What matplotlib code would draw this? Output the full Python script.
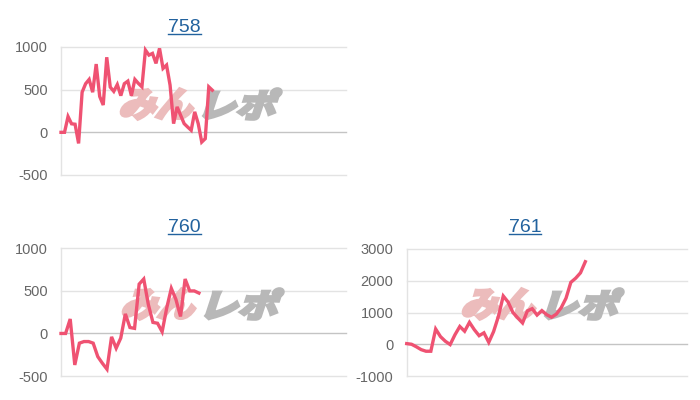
import matplotlib
matplotlib.use('Agg')
import matplotlib.pyplot as plt
from matplotlib.textpath import TextPath
from matplotlib.patches import PathPatch
from matplotlib.font_manager import FontProperties
from matplotlib.transforms import Affine2D
from matplotlib.lines import Line2D
import numpy as np

plt.rcParams['font.family'] = ['Liberation Sans', 'DejaVu Sans']

# machine numbers and their running totals
titles = ['758', '760', '761']
slots = [82, 63, 59]   # number of x positions on each chart

v758 = [0, 0, 185, 100, 95, -130, 470, 570, 620, 470, 800, 420, 320, 880, 530,
        480, 560, 430, 570, 600, 430, 620, 573, 533, 964, 905, 925, 808, 984,
        749, 788, 553, 102, 298, 200, 102, 62, 24, 240, 102, -114, -74, 533, 494]
v760 = [0, 0, 170, -370, -114, -95, -95, -114, -272, -350, -420, -40, -173, -54,
        230, 70, 60, 580, 640, 340, 130, 120, 20, 300, 530, 400, 200, 640, 500,
        500, 475]
v761 = [20, 0, -80, -170, -220, -220, 480, 240, 95, -10, 300, 560, 410, 690, 460,
        270, 360, 60, 400, 880, 1520, 1330, 1000, 830, 670, 1050, 1120, 920, 1060,
        930, 850, 950, 1150, 1450, 1950, 2080, 2250, 2600]

yticks758 = [-500, 0, 500, 1000]
yticks760 = [-500, 0, 500, 1000]
yticks761 = [-1000, 0, 1000, 2000, 3000]

LINE = '#ef5272'
GRID = '#e3e3e3'
ZERO = '#c4c4c4'
LINK = '#22629e'

fig = plt.figure(figsize=(7, 4), dpi=100)
wm_font = FontProperties(family='Noto Sans CJK JP', weight='bold')


def watermark(ax, x0, y0):
    # "みんレポ" logo, drawn in figure pixels, leaning like italics
    x = x0
    H = 30
    lean = 18
    for txt, col, W in (('みん', '#ecbcbc', 80), ('レポ', '#b8b8b8', 79)):
        tp = TextPath((0, 0), txt, size=40, prop=wm_font)
        ext = tp.get_extents()
        sx = (W - H * np.tan(np.radians(lean))) / ext.width
        sy = H / ext.height
        tr = (Affine2D().translate(-ext.x0, -ext.y0).scale(sx, sy)
              .skew_deg(lean, 0).translate(x + 1, y0 + 1))
        ax.add_patch(PathPatch(tp, transform=tr, facecolor=col, edgecolor=col,
                               lw=2.6, joinstyle='miter', zorder=1))
        x += W + 4


def panel(rect, values, n, ticks, wm_pos):
    ax = fig.add_axes(rect)
    ax.plot(range(len(values)), values, color=LINE, lw=2.4, zorder=3,
            solid_joinstyle='miter', clip_on=False)
    ax.set_xlim(0, n - 1)
    ax.set_ylim(ticks[0], ticks[-1])
    ax.set_xticks([])
    ax.set_yticks(ticks)
    ax.set_yticklabels([str(t) for t in ticks])
    ax.tick_params(axis='y', length=0, pad=9.5, labelsize=10.5, labelcolor='#666666')
    for t in ticks:
        ax.axhline(t, color=ZERO if t == 0 else GRID, lw=1, zorder=0, clip_on=False)
    for s in ['top', 'right', 'bottom']:
        ax.spines[s].set_visible(False)
    ax.spines['left'].set_color(GRID)
    ax.spines['left'].set_linewidth(1)
    watermark(ax, *wm_pos)
    return ax


panel([61 / 700, 0.5625, 285 / 700, 0.32], v758, slots[0], yticks758, (118, 280))
panel([61 / 700, 0.06, 285 / 700, 0.319], v760, slots[1], yticks760, (120, 80))
panel([406.7 / 700, 0.06, 280 / 700, 0.3175], v761, slots[2], yticks761, (460, 80))

# titles are links in the original page: blue and underlined
title_pos = [(184.7, 367.7), (184.7, 167.7), (525, 167.7)]
texts = []
for name, (px, py) in zip(titles, title_pos):
    texts.append(fig.text(px / 700, py / 400, name, ha='center', va='baseline',
                          fontsize=14, color=LINK))

fig.canvas.draw()
r = fig.canvas.get_renderer()
for t, (px, py) in zip(texts, title_pos):
    bb = t.get_window_extent(r)
    y = (py - 1.8) / 400
    fig.add_artist(Line2D([bb.x0 / 700, bb.x1 / 700], [y, y], color=LINK, lw=1))

fig.savefig('out.png', dpi=100)
